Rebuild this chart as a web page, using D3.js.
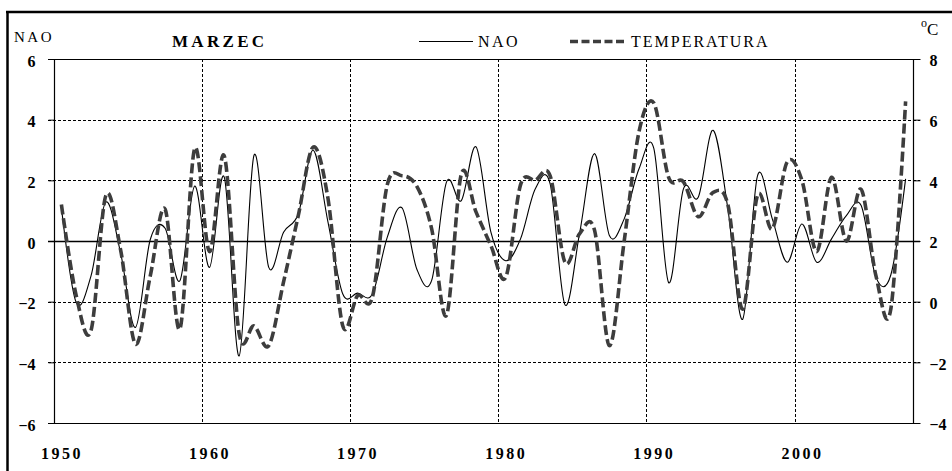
<!DOCTYPE html>
<html>
<head>
<meta charset="utf-8">
<script src="https://cdn.jsdelivr.net/npm/d3@7"></script>
<style>
  body { margin: 0; background: #fff; }
  svg { display: block; }
  .serif { font-family: "Times New Roman", "Liberation Serif", serif; fill: #000; }
</style>
</head>
<body>
<div id="chart"></div>
<script>
// years 1950..2007, one value per year (March)
var years = d3.range(1950, 2008);

var naoValues = [
  1.1, -2.03, -1.15, 1.28, -0.4, -2.85, 0.05, 0.42, -1.31, 1.81,
  -0.87, 2.1, -3.79, 2.82, -0.87, 0.29, 0.9, 2.99, 0.62, -1.75,
  -1.72, -1.75, 0.12, 1.09, -0.93, -1.3, 1.94, 1.33, 3.1, 0.29,
  -0.65, 0.07, 1.72, 1.88, -2.1, 0.29, 2.88, 0.18, 0.73, 2.38,
  3.05, -1.37, 1.72, 1.44, 3.65, 1.06, -2.58, 2.15, 0.73, -0.7,
  0.56, -0.7, 0.07, 0.84, 1.17, -1.2, -1.12, 2.05
];

// temperatura, deg C
var tempValues = [
  3.2, 0.2, -0.95, 3.5, 1.7, -1.4, 0.85, 3.05, -0.9, 5.05,
  1.65, 4.8, -1.05, -0.8, -1.45, 0.65, 2.85, 5.1, 3.4, -0.8,
  0.2, 0.15, 3.85, 4.15, 3.8, 2.4, -0.45, 4.2, 2.95, 1.85,
  0.8, 3.85, 4.0, 4.15, 1.3, 2.25, 2.35, -1.45, 2.0, 5.6,
  6.55, 4.1, 3.95, 2.8, 3.6, 3.2, -0.25, 3.5, 2.4, 4.6,
  4.0, 1.65, 4.1, 2.0, 3.7, 0.85, -0.25, 6.6
];

var naoTicks = [-6, -4, -2, 0, 2, 4, 6];
var tempTicks = [-4, -2, 0, 2, 4, 6, 8];
var yearTicks = [1950, 1960, 1970, 1980, 1990, 2000];
var gridYears = [1960, 1970, 1980, 1990, 2000];

var width = 952, height = 471;
var plotLeft = 54, plotRight = 913, plotTop = 59, plotBottom = 423;
var tempColor = "#3d3d3d";

var svg = d3.select("#chart").append("svg")
  .attr("width", width).attr("height", height);

var x = d3.scaleLinear().domain([1950, 2008]).range([plotLeft, plotRight]);
var xLabel = x.copy().domain([1949.5, 2007.5]); // labels sit in the middle of the year
var yNao = d3.scaleLinear().domain([-6, 6]).range([plotBottom, plotTop]);
var yTemp = d3.scaleLinear().domain([-4, 8]).range([plotBottom, plotTop]);

// outer frame (only top and left visible in the crop)
svg.append("line").attr("x1", 7.5).attr("x2", 7.5).attr("y1", 11).attr("y2", height)
  .attr("stroke", "#000").attr("stroke-width", 2.5);
svg.append("line").attr("x1", 6).attr("x2", width).attr("y1", 12).attr("y2", 12)
  .attr("stroke", "#000").attr("stroke-width", 2.5);

// horizontal grid
svg.append("g").selectAll("line")
  .data(naoTicks)
  .enter().append("line")
  .attr("x1", plotLeft - 6).attr("x2", plotRight + 7)
  .attr("y1", function(d) { return Math.round(yNao(d)) + 0.5; })
  .attr("y2", function(d) { return Math.round(yNao(d)) + 0.5; })
  .attr("stroke", "#000")
  .attr("stroke-width", function(d) { return d === 0 ? 1.3 : 1; })
  .attr("stroke-dasharray", function(d) {
    return (d === 0 || d === 6 || d === -6) ? null : "3,2";
  });

// vertical grid
svg.append("g").selectAll("line")
  .data(gridYears)
  .enter().append("line")
  .attr("x1", function(d) { return Math.round(x(d)) + 0.5; })
  .attr("x2", function(d) { return Math.round(x(d)) + 0.5; })
  .attr("y1", plotTop).attr("y2", plotBottom)
  .attr("stroke", "#000").attr("stroke-width", 1)
  .attr("stroke-dasharray", "3,2");

// axes
var leftAxis = svg.append("g")
  .attr("transform", "translate(" + (plotLeft + 0.5) + ",0)")
  .call(d3.axisLeft(yNao).tickValues(naoTicks).tickSize(6).tickPadding(13).tickFormat(d3.format("d")));

var rightAxis = svg.append("g")
  .attr("transform", "translate(" + (plotRight + 0.5) + ",0)")
  .call(d3.axisRight(yTemp).tickValues(tempTicks).tickSize(7).tickPadding(9).tickFormat(d3.format("d")));

var bottomAxis = svg.append("g")
  .attr("transform", "translate(0," + plotBottom + ")")
  .call(d3.axisBottom(xLabel).tickValues(yearTicks).tickSize(0).tickPadding(25).tickFormat(d3.format("d")));

[leftAxis, rightAxis, bottomAxis].forEach(function(a) {
  a.selectAll(".tick line").attr("stroke", "#000");
  a.select(".domain").attr("stroke", "#000").attr("stroke-width", 1.2);
  a.selectAll("text")
    .attr("class", "serif")
    .style("font-size", "16px")
    .style("font-weight", "bold")
    .attr("fill", "#000");
});
leftAxis.select(".domain").attr("d", "M0," + plotTop + "V" + plotBottom);
rightAxis.select(".domain").attr("d", "M0," + plotTop + "V" + plotBottom);
bottomAxis.select(".domain").remove();
leftAxis.selectAll("text").attr("dy", "0.45em");
rightAxis.selectAll("text").attr("dy", "0.42em");
bottomAxis.selectAll("text").style("letter-spacing", "2.5px");

// lines
var naoLine = d3.line()
  .x(function(d, i) { return x(years[i] + 0.5); })
  .y(function(d) { return yNao(d); })
  .curve(d3.curveCardinal.tension(0));

var tempLine = d3.line()
  .x(function(d, i) { return x(years[i] + 0.5); })
  .y(function(d) { return yTemp(d); })
  .curve(d3.curveCardinal.tension(0));

svg.append("path")
  .datum(naoValues)
  .attr("d", naoLine)
  .attr("fill", "none")
  .attr("stroke", "#000")
  .attr("stroke-width", 1.1);

svg.append("path")
  .datum(tempValues)
  .attr("d", tempLine)
  .attr("fill", "none")
  .attr("stroke", tempColor)
  .attr("stroke-width", 3.6)
  .attr("stroke-dasharray", "10,4");

// titles
svg.append("text").attr("class", "serif")
  .attr("x", 14).attr("y", 42)
  .style("font-size", "15px").style("letter-spacing", "2.5px")
  .text("NAO");

svg.append("text").attr("class", "serif")
  .attr("x", 172).attr("y", 47)
  .style("font-size", "17px").style("font-weight", "bold").style("letter-spacing", "3.3px")
  .text("MARZEC");

var deg = svg.append("text").attr("class", "serif")
  .attr("x", 921).attr("y", 35)
  .style("font-size", "17px");
deg.append("tspan").attr("dy", -8).style("font-size", "12px").text("o");
deg.append("tspan").attr("dy", 8).text("C");

// legend
svg.append("line")
  .attr("x1", 419).attr("x2", 473).attr("y1", 41.5).attr("y2", 41.5)
  .attr("stroke", "#000").attr("stroke-width", 1.1);
svg.append("text").attr("class", "serif")
  .attr("x", 478).attr("y", 47)
  .style("font-size", "16px").style("letter-spacing", "2.4px")
  .text("NAO");

svg.append("line")
  .attr("x1", 570).attr("x2", 626).attr("y1", 41.5).attr("y2", 41.5)
  .attr("stroke", tempColor).attr("stroke-width", 3.6)
  .attr("stroke-dasharray", "8,3.5");
svg.append("text").attr("class", "serif")
  .attr("x", 631).attr("y", 47)
  .style("font-size", "16px").style("letter-spacing", "2px")
  .text("TEMPERATURA");
</script>
</body>
</html>
